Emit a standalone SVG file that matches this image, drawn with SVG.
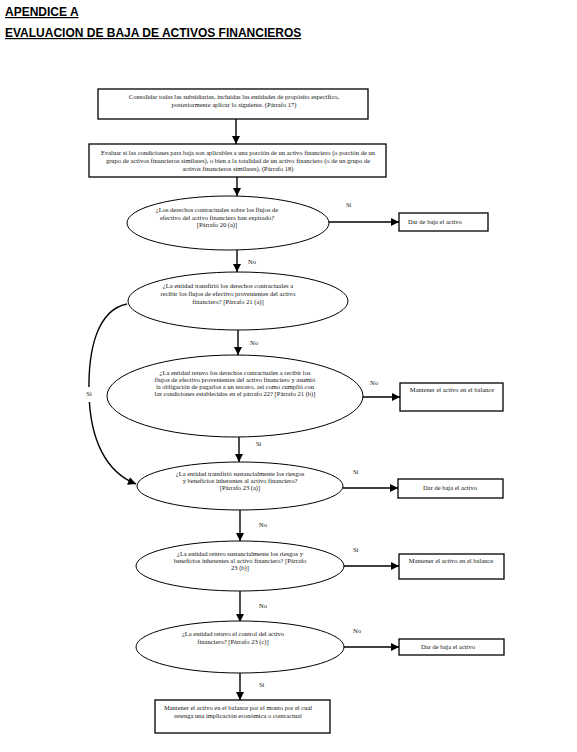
<svg xmlns="http://www.w3.org/2000/svg" width="577" height="752" viewBox="0 0 577 752">
<defs>
<marker id="ah" viewBox="0 0 10 10" refX="10" refY="5" markerWidth="9" markerHeight="8" markerUnits="userSpaceOnUse" orient="auto">
<path d="M0,0 L10,5 L0,10 z" fill="#000"/>
</marker>
</defs>
<style>
.t{font-family:"Liberation Serif","Times New Roman",serif;font-size:6.5px;fill:#111;}
.m{text-anchor:middle;}
.h{font-family:"Liberation Sans",Arial,sans-serif;font-size:12px;font-weight:bold;fill:#000;text-decoration:underline;}
.box{fill:#fff;stroke:#000;stroke-width:1.3;}
.ell{fill:#fff;stroke:#000;stroke-width:1;}
.c{fill:none;stroke:#000;stroke-width:1.4;marker-end:url(#ah);}
</style>
<rect width="577" height="752" fill="#fff"/>
<text class="h" x="5" y="16">APENDICE A</text>
<text class="h" x="5" y="37">EVALUACION DE BAJA DE ACTIVOS FINANCIEROS</text>

<g id="connectors">
<line class="c" x1="236" y1="119" x2="236" y2="144"/>
<line class="c" x1="237" y1="177" x2="237" y2="196"/>
<line class="c" x1="328" y1="222" x2="399" y2="222"/>
<line class="c" x1="237" y1="250" x2="237" y2="272"/>
<line class="c" x1="238" y1="330" x2="238" y2="355"/>
<path class="c" d="M127,304 C97,310 88,350 89,393 C90,440 106,472 136,484"/>
<line class="c" x1="362" y1="397" x2="400" y2="397"/>
<line class="c" x1="239" y1="437" x2="239" y2="462"/>
<line class="c" x1="343" y1="488" x2="398" y2="488"/>
<line class="c" x1="240" y1="510" x2="240" y2="541"/>
<line class="c" x1="344" y1="566" x2="399" y2="566"/>
<line class="c" x1="240" y1="591" x2="240" y2="622"/>
<line class="c" x1="344" y1="647" x2="399" y2="647"/>
<line class="c" x1="240" y1="673" x2="240" y2="700"/>
<rect x="83" y="387" width="12" height="15" fill="#fff"/>
<text class="t m" x="89" y="396">Si</text>
<text class="t" x="346" y="207">Si</text>
<text class="t" x="248" y="264">No</text>
<text class="t" x="250" y="345">No</text>
<text class="t" x="370" y="385">No</text>
<text class="t" x="256" y="446">Si</text>
<text class="t" x="353" y="474">Si</text>
<text class="t" x="259" y="527">No</text>
<text class="t" x="353" y="552">Si</text>
<text class="t" x="259" y="608">No</text>
<text class="t" x="353" y="633">No</text>
<text class="t" x="259" y="687">Si</text>
</g>

<g id="n1">
<rect class="box" x="98" y="89" width="270" height="30"/>
<text class="t m" x="234" y="99">Consolidar todas las subsidiarias, incluidas las entidades de propósito específico,</text>
<text class="t m" x="234" y="107">posteriormente aplicar lo siguiente. (Párrafo 17)</text>
</g>
<g id="n2">
<rect class="box" x="89" y="144" width="297" height="33"/>
<text class="t m" x="238" y="155">Evaluar si las condiciones para baja son aplicables a una porción de un activo financiero (o porción de un</text>
<text class="t m" x="238" y="163">grupo de activos financieros similares), o bien a la totalidad de un activo financiero (o de un grupo de</text>
<text class="t m" x="238" y="171">activos financieros similares). (Párrafo 18)</text>
</g>
<g id="q1">
<ellipse class="ell" cx="228" cy="223" rx="101" ry="27"/>
<text class="t m" x="217" y="212">¿Los derechos contractuales sobre los flujos de</text>
<text class="t m" x="217" y="220">efectivo del activo financiero han expirado?</text>
<text class="t m" x="217" y="227">[Párrafo 20 (a)]</text>
</g>
<g id="r1">
<rect class="box" x="399" y="213" width="89" height="18"/>
<text class="t" x="408" y="224">Dar de baja el activo</text>
</g>
<g id="q2">
<ellipse class="ell" cx="238" cy="301" rx="110" ry="29"/>
<text class="t m" x="228" y="288">¿La entidad transfirió los derechos contractuales a</text>
<text class="t m" x="228" y="296">recibir los flujos de efectivo provenientes del activo</text>
<text class="t m" x="228" y="304">financiero? [Párrafo 21 (a)]</text>
</g>
<g id="q3">
<ellipse class="ell" cx="235" cy="396" rx="128" ry="41"/>
<text class="t m" x="235" y="375">¿La entidad retuvo los derechos contractuales a recibir los</text>
<text class="t m" x="235" y="382">flujos de efectivo provenientes del activo financiero y asumió</text>
<text class="t m" x="235" y="389">la obligación de pagarlos a un tercero, así como cumplió con</text>
<text class="t m" x="235" y="396">las condiciones establecidas en el párrafo 22? [Párrafo 21 (b)]</text>
</g>
<g id="r3">
<rect class="box" x="400" y="383" width="103" height="28"/>
<text class="t m" x="452" y="392">Mantener el activo en el balance</text>
</g>
<g id="q4">
<ellipse class="ell" cx="240" cy="486" rx="103" ry="24"/>
<text class="t m" x="240" y="476">¿La entidad transfirió sustancialmente los riesgos</text>
<text class="t m" x="240" y="483">y beneficios inherentes al activo financiero?</text>
<text class="t m" x="240" y="490">[Párrafo 23 (a)]</text>
</g>
<g id="r4">
<rect class="box" x="398" y="479" width="105" height="19"/>
<text class="t m" x="450" y="490">Dar de baja el activo</text>
</g>
<g id="q5">
<ellipse class="ell" cx="240" cy="566" rx="104" ry="25"/>
<text class="t m" x="240" y="556">¿La entidad retuvo sustancialmente los riesgos y</text>
<text class="t m" x="240" y="563">beneficios inherentes al activo financiero? [Párrafo</text>
<text class="t m" x="240" y="570">23 (b)]</text>
</g>
<g id="r5">
<rect class="box" x="399" y="554" width="105" height="25"/>
<text class="t m" x="451" y="563">Mantener el activo en el balance</text>
</g>
<g id="q6">
<ellipse class="ell" cx="240" cy="647" rx="104" ry="26"/>
<text class="t m" x="233" y="636">¿La entidad retuvo el control del activo</text>
<text class="t m" x="233" y="644">financiero? [Párrafo 23 (c)]</text>
</g>
<g id="r6">
<rect class="box" x="399" y="639" width="105" height="16"/>
<text class="t m" x="448" y="649">Dar de baja el activo</text>
</g>
<g id="end">
<rect class="box" x="155" y="700" width="175" height="33"/>
<text class="t m" x="238" y="710">Mantener el activo en el balance por el monto por el cual</text>
<text class="t m" x="238" y="718">retenga una implicación económica o contractual</text>
</g>
</svg>
